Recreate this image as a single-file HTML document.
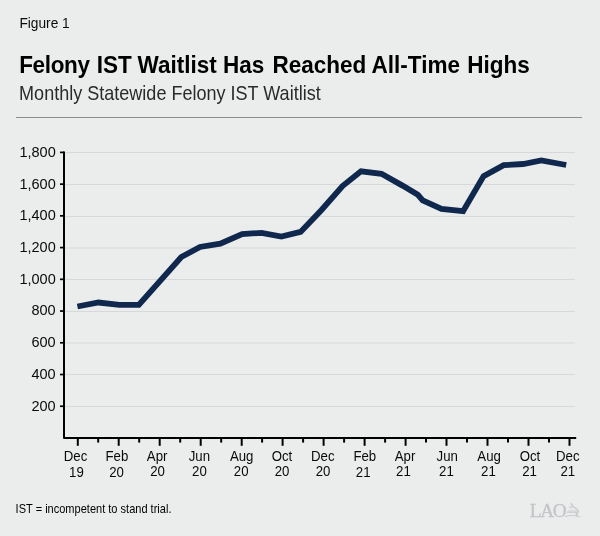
<!DOCTYPE html>
<html>
<head>
<meta charset="utf-8">
<title>Figure 1</title>
<style>
  html, body { margin: 0; padding: 0; background: #ebeded; }
  body { width: 600px; height: 536px; overflow: hidden; font-family: "Liberation Sans", sans-serif; }
  svg { display: block; }
  text { font-family: "Liberation Sans", sans-serif; fill: #0a0a0a; }
  .ylab text { font-size: 15.2px; text-anchor: end; }
  .xlab text { font-size: 14px; text-anchor: middle; }
</style>
</head>
<body>
<svg width="600" height="536" viewBox="0 0 600 536">
  <rect x="0" y="0" width="600" height="536" fill="#ebeded"/>

  <!-- header -->
  <text transform="translate(19.4,27.7) scale(0.94,1)" style="font-size:14.6px">Figure 1</text>
  <text transform="translate(19.2,72.7) scale(0.954,1)" style="font-size:23.6px;font-weight:bold;fill:#000"><tspan style="letter-spacing:-0.36px">Felony</tspan> <tspan dx="0.9">IST</tspan> <tspan dx="-0.5">Waitlist</tspan> Has <tspan dx="2">Reached</tspan> All-Time <tspan dx="1">Highs</tspan></text>
  <text transform="translate(19.1,99.6) scale(0.93,1)" style="font-size:19.4px;fill:#2a2a2a">Monthly Statewide Felony IST Waitlist</text>
  <rect x="16" y="117" width="566" height="1" fill="#8b8d90"/>

  <!-- gridlines -->
  <g stroke="#d6d8d9" stroke-width="1">
    <line x1="65" x2="575" y1="152.5" y2="152.5"/>
    <line x1="65" x2="575" y1="184.5" y2="184.5"/>
    <line x1="65" x2="575" y1="216.5" y2="216.5"/>
    <line x1="65" x2="575" y1="248.0" y2="248.0"/>
    <line x1="65" x2="575" y1="279.5" y2="279.5"/>
    <line x1="65" x2="575" y1="311.5" y2="311.5"/>
    <line x1="65" x2="575" y1="343.0" y2="343.0"/>
    <line x1="65" x2="575" y1="374.5" y2="374.5"/>
    <line x1="65" x2="575" y1="406.5" y2="406.5"/>
  </g>

  <!-- y ticks -->
  <g stroke="#000" stroke-width="1.7">
    <line x1="60" x2="64" y1="152.40" y2="152.40"/>
    <line x1="60" x2="64" y1="184.13" y2="184.13"/>
    <line x1="60" x2="64" y1="215.86" y2="215.86"/>
    <line x1="60" x2="64" y1="247.59" y2="247.59"/>
    <line x1="60" x2="64" y1="279.32" y2="279.32"/>
    <line x1="60" x2="64" y1="311.05" y2="311.05"/>
    <line x1="60" x2="64" y1="342.78" y2="342.78"/>
    <line x1="60" x2="64" y1="374.51" y2="374.51"/>
    <line x1="60" x2="64" y1="406.24" y2="406.24"/>
  </g>

  <!-- axes -->
  <path d="M64 151.55 V438 H576.2" fill="none" stroke="#000" stroke-width="2" stroke-linejoin="round"/>

  <!-- x ticks -->
  <g stroke="#000" stroke-width="2">
    <line x1="77.8" x2="77.8" y1="438" y2="445.8"/>
    <line x1="98.2" x2="98.2" y1="438" y2="442.6"/>
    <line x1="118.7" x2="118.7" y1="438" y2="445.8"/>
    <line x1="139.2" x2="139.2" y1="438" y2="442.6"/>
    <line x1="159.7" x2="159.7" y1="438" y2="445.8"/>
    <line x1="180.2" x2="180.2" y1="438" y2="442.6"/>
    <line x1="200.7" x2="200.7" y1="438" y2="445.8"/>
    <line x1="221.2" x2="221.2" y1="438" y2="442.6"/>
    <line x1="241.7" x2="241.7" y1="438" y2="445.8"/>
    <line x1="262.1" x2="262.1" y1="438" y2="442.6"/>
    <line x1="282.6" x2="282.6" y1="438" y2="445.8"/>
    <line x1="303.1" x2="303.1" y1="438" y2="442.6"/>
    <line x1="323.6" x2="323.6" y1="438" y2="445.8"/>
    <line x1="344.1" x2="344.1" y1="438" y2="442.6"/>
    <line x1="364.6" x2="364.6" y1="438" y2="445.8"/>
    <line x1="385.1" x2="385.1" y1="438" y2="442.6"/>
    <line x1="405.6" x2="405.6" y1="438" y2="445.8"/>
    <line x1="426.0" x2="426.0" y1="438" y2="442.6"/>
    <line x1="446.5" x2="446.5" y1="438" y2="445.8"/>
    <line x1="467.0" x2="467.0" y1="438" y2="442.6"/>
    <line x1="487.5" x2="487.5" y1="438" y2="445.8"/>
    <line x1="508.0" x2="508.0" y1="438" y2="442.6"/>
    <line x1="528.5" x2="528.5" y1="438" y2="445.8"/>
    <line x1="549.0" x2="549.0" y1="438" y2="442.6"/>
    <line x1="569.5" x2="569.5" y1="438" y2="445.8"/>
  </g>

  <!-- y labels -->
  <g class="ylab">
    <text transform="translate(55.7,156.8) scale(0.955,1)">1,800</text>
    <text transform="translate(55.7,188.5) scale(0.955,1)">1,600</text>
    <text transform="translate(55.7,220.3) scale(0.955,1)">1,400</text>
    <text transform="translate(55.7,252.0) scale(0.955,1)">1,200</text>
    <text transform="translate(55.7,283.7) scale(0.955,1)">1,000</text>
    <text transform="translate(55.7,315.4) scale(0.955,1)">800</text>
    <text transform="translate(55.7,347.2) scale(0.955,1)">600</text>
    <text transform="translate(55.7,378.9) scale(0.955,1)">400</text>
    <text transform="translate(55.7,410.6) scale(0.955,1)">200</text>
  </g>

  <!-- x labels -->
  <g class="xlab">
    <text transform="translate(75.50,460.5) scale(0.945,1)">Dec</text>
    <text transform="translate(76.40,476.7) scale(0.945,1)">19</text>
    <text transform="translate(116.90,460.5) scale(0.945,1)">Feb</text>
    <text transform="translate(116.60,476.7) scale(0.945,1)">20</text>
    <text transform="translate(157.10,460.5) scale(0.945,1)">Apr</text>
    <text transform="translate(157.60,475.7) scale(0.945,1)">20</text>
    <text transform="translate(199.40,460.5) scale(0.945,1)">Jun</text>
    <text transform="translate(199.40,475.7) scale(0.945,1)">20</text>
    <text transform="translate(241.70,460.5) scale(0.945,1)">Aug</text>
    <text transform="translate(241.20,475.7) scale(0.945,1)">20</text>
    <text transform="translate(281.90,460.5) scale(0.945,1)">Oct</text>
    <text transform="translate(282.00,475.7) scale(0.945,1)">20</text>
    <text transform="translate(322.80,460.5) scale(0.945,1)">Dec</text>
    <text transform="translate(323.00,475.7) scale(0.945,1)">20</text>
    <text transform="translate(364.80,460.5) scale(0.945,1)">Feb</text>
    <text transform="translate(363.20,476.7) scale(0.945,1)">21</text>
    <text transform="translate(405.00,460.5) scale(0.945,1)">Apr</text>
    <text transform="translate(403.40,475.7) scale(0.945,1)">21</text>
    <text transform="translate(447.20,460.5) scale(0.945,1)">Jun</text>
    <text transform="translate(446.40,475.7) scale(0.945,1)">21</text>
    <text transform="translate(489.10,460.5) scale(0.945,1)">Aug</text>
    <text transform="translate(488.40,475.7) scale(0.945,1)">21</text>
    <text transform="translate(530.00,460.5) scale(0.945,1)">Oct</text>
    <text transform="translate(529.60,475.7) scale(0.945,1)">21</text>
    <text transform="translate(567.80,460.5) scale(0.945,1)">Dec</text>
    <text transform="translate(567.80,475.8) scale(0.945,1)">21</text>
  </g>

  <!-- data line -->
  <polyline fill="none" stroke="#10284d" stroke-width="5.8" stroke-linejoin="miter" stroke-linecap="butt"
    points="77.4,306.5 98.5,302.5 119.4,304.9 138.8,304.9 181.3,257 200,247 220.3,243.6 242.1,234 261.5,232.9 281.4,236.5 300.6,231.9 321.5,210 342.5,186.1 361,171.3 381.5,173.8 402.5,185.6 417.9,194.8 422.7,200.3 441.5,209 463.1,211.2 483.6,176.1 503.7,165.2 523.1,164 541.3,160.5 566.2,165"/>

  <!-- footnote -->
  <text transform="translate(15.6,513.4) scale(0.905,1)" style="font-size:12.2px;fill:#000">IST = incompetent to stand trial.</text>

  <!-- LAO logo -->
  <text x="529.8" y="516.9" style="font-family:'Liberation Serif',serif;font-size:19.3px;letter-spacing:-1.4px;fill:#c3c5c8;stroke:#c3c5c8;stroke-width:0.3px">LAO</text>
  <g fill="#c9cbce" stroke="none">
    <path d="M570.2 503.6 L571.9 503.1 L573.6 505.8 L572.9 506.4 L571.3 505.3 Z"/>
    <path d="M569.3 507.4 L573.4 506.5" fill="none" stroke="#c9cbce" stroke-width="1.1"/>
    <path d="M570 507.6 L573.6 507.2 C576 508.2 577.6 510 578.2 511.6 L567.4 511.6 C568 510 568.8 508.6 570 507.6 Z" fill-opacity="0.1"/>
    <path d="M568.4 509.9 L577.3 509.9 L578.2 511.6 L567.4 511.6 Z" fill-opacity="0.3"/>
    <path d="M573.2 506.6 C576.2 507.8 577.9 510.2 578.5 512.2" fill="none" stroke="#c9cbce" stroke-width="1.3"/>
    <rect x="567" y="511.5" width="12" height="1.3"/>
    <rect x="575.6" y="512.8" width="2.3" height="3.5"/>
    <path d="M565 516.7 Q572 514.2 580.4 517" fill="none" stroke="#c9cbce" stroke-width="1.1"/>
  </g>
</svg>
</body>
</html>
